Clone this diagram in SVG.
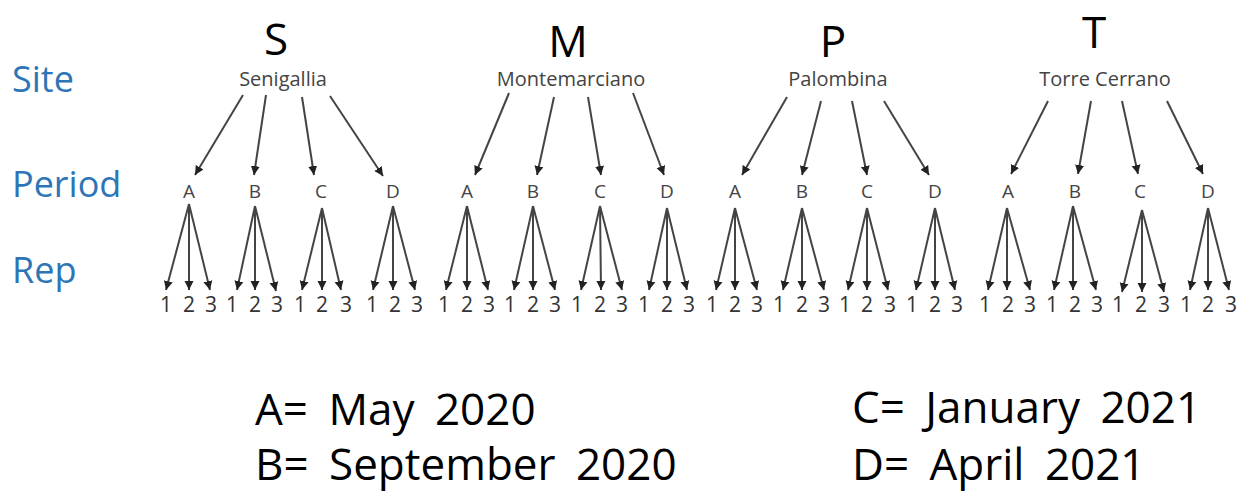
<svg xmlns="http://www.w3.org/2000/svg" width="1256" height="501" viewBox="0 0 1256 501">
<style>
text{font-family:"Open Sans","Liberation Sans",sans-serif}
.lab{font-size:36px;fill:#2E75B6}
.big{font-size:44px;fill:#000;text-anchor:middle}
.site{font-size:20px;fill:#444;text-anchor:middle}
.per{font-size:19px;fill:#444;text-anchor:middle}
.rep{font-size:21px;fill:#333;text-anchor:middle}
.leg{font-size:44px;fill:#000;word-spacing:9px}
.c line{stroke:#444;stroke-width:2;marker-end:url(#ah)}
</style>
<defs>
<marker id="ah" markerUnits="userSpaceOnUse" markerWidth="10" markerHeight="10" refX="9" refY="4.5" orient="auto" viewBox="0 0 10 9">
<path d="M0,0 L9,4.5 L0,9 z" fill="#222"/>
</marker>
</defs>
<rect width="1256" height="501" fill="#fff"/>
<g id="labels">
<text class="lab" x="12" y="92">Site</text>
<text class="lab" x="12" y="197">Period</text>
<text class="lab" x="12" y="283">Rep</text>
</g>
<g id="site-S"><text class="big" x="276" y="55">S</text><text class="site" x="283" y="86">Senigallia</text></g>
<g id="site-M"><text class="big" x="568" y="57">M</text><text class="site" x="571" y="86">Montemarciano</text></g>
<g id="site-P"><text class="big" x="833" y="57">P</text><text class="site" x="838" y="86">Palombina</text></g>
<g id="site-T"><text class="big" x="1094" y="48">T</text><text class="site" x="1105" y="86">Torre Cerrano</text></g>
<g id="periods">
<g id="S-A"><text class="per" x="189" y="198">A</text></g>
<g id="S-B"><text class="per" x="255" y="198">B</text></g>
<g id="S-C"><text class="per" x="321" y="198">C</text></g>
<g id="S-D"><text class="per" x="393" y="198">D</text></g>
<g id="M-A"><text class="per" x="467" y="198">A</text></g>
<g id="M-B"><text class="per" x="533" y="198">B</text></g>
<g id="M-C"><text class="per" x="600" y="198">C</text></g>
<g id="M-D"><text class="per" x="667" y="198">D</text></g>
<g id="P-A"><text class="per" x="735" y="198">A</text></g>
<g id="P-B"><text class="per" x="802" y="198">B</text></g>
<g id="P-C"><text class="per" x="867" y="198">C</text></g>
<g id="P-D"><text class="per" x="935" y="198">D</text></g>
<g id="T-A"><text class="per" x="1008" y="198">A</text></g>
<g id="T-B"><text class="per" x="1075" y="198">B</text></g>
<g id="T-C"><text class="per" x="1140" y="198">C</text></g>
<g id="T-D"><text class="per" x="1208" y="198">D</text></g>
</g>
<g id="reps">
<g id="S-A-r"><text class="rep" x="166" y="312">1</text><text class="rep" x="189" y="312">2</text><text class="rep" x="211" y="312">3</text></g>
<g id="S-B-r"><text class="rep" x="232" y="312">1</text><text class="rep" x="255" y="312">2</text><text class="rep" x="277" y="312">3</text></g>
<g id="S-C-r"><text class="rep" x="300" y="312">1</text><text class="rep" x="322" y="312">2</text><text class="rep" x="346" y="312">3</text></g>
<g id="S-D-r"><text class="rep" x="372" y="312">1</text><text class="rep" x="395" y="312">2</text><text class="rep" x="417" y="312">3</text></g>
<g id="M-A-r"><text class="rep" x="444" y="312">1</text><text class="rep" x="467" y="312">2</text><text class="rep" x="489" y="312">3</text></g>
<g id="M-B-r"><text class="rep" x="510" y="312">1</text><text class="rep" x="533" y="312">2</text><text class="rep" x="555" y="312">3</text></g>
<g id="M-C-r"><text class="rep" x="577" y="312">1</text><text class="rep" x="600" y="312">2</text><text class="rep" x="622" y="312">3</text></g>
<g id="M-D-r"><text class="rep" x="644" y="312">1</text><text class="rep" x="667" y="312">2</text><text class="rep" x="689" y="312">3</text></g>
<g id="P-A-r"><text class="rep" x="712" y="312">1</text><text class="rep" x="735" y="312">2</text><text class="rep" x="757" y="312">3</text></g>
<g id="P-B-r"><text class="rep" x="779" y="312">1</text><text class="rep" x="802" y="312">2</text><text class="rep" x="824" y="312">3</text></g>
<g id="P-C-r"><text class="rep" x="845" y="312">1</text><text class="rep" x="867" y="312">2</text><text class="rep" x="890" y="312">3</text></g>
<g id="P-D-r"><text class="rep" x="912" y="312">1</text><text class="rep" x="935" y="312">2</text><text class="rep" x="957" y="312">3</text></g>
<g id="T-A-r"><text class="rep" x="985" y="312">1</text><text class="rep" x="1008" y="312">2</text><text class="rep" x="1030" y="312">3</text></g>
<g id="T-B-r"><text class="rep" x="1052" y="312">1</text><text class="rep" x="1075" y="312">2</text><text class="rep" x="1097" y="312">3</text></g>
<g id="T-C-r"><text class="rep" x="1118" y="312">1</text><text class="rep" x="1141" y="312">2</text><text class="rep" x="1164" y="312">3</text></g>
<g id="T-D-r"><text class="rep" x="1186" y="312">1</text><text class="rep" x="1208" y="312">2</text><text class="rep" x="1231" y="312">3</text></g>
</g>
<g id="connectors" class="c">
<line x1="243" y1="95" x2="195" y2="175"/><line x1="266" y1="95" x2="254" y2="175"/><line x1="302" y1="97" x2="314" y2="175"/><line x1="330" y1="96" x2="383" y2="176"/>
<line x1="509" y1="93" x2="475" y2="175"/><line x1="554" y1="97" x2="537" y2="175"/><line x1="588" y1="97" x2="601" y2="175"/><line x1="633" y1="93" x2="664" y2="175"/>
<line x1="787" y1="97" x2="742" y2="175"/><line x1="821" y1="101" x2="802" y2="175"/><line x1="852" y1="101" x2="867" y2="175"/><line x1="884" y1="101" x2="929" y2="175"/>
<line x1="1048" y1="101" x2="1011" y2="174"/><line x1="1091" y1="101" x2="1078" y2="174"/><line x1="1122" y1="101" x2="1138" y2="174"/><line x1="1167" y1="101" x2="1203" y2="174"/>
<line x1="189" y1="204" x2="166" y2="290"/><line x1="189" y1="204" x2="189" y2="290"/><line x1="189" y1="204" x2="210" y2="290"/>
<line x1="255" y1="206" x2="237" y2="290"/><line x1="255" y1="206" x2="255" y2="290"/><line x1="255" y1="206" x2="276" y2="291"/>
<line x1="322" y1="208" x2="302" y2="290"/><line x1="322" y1="208" x2="322" y2="290"/><line x1="322" y1="208" x2="341" y2="290"/>
<line x1="393" y1="206" x2="373" y2="290"/><line x1="393" y1="206" x2="393" y2="290"/><line x1="393" y1="206" x2="415" y2="290"/>
<line x1="467" y1="206" x2="446" y2="290"/><line x1="467" y1="206" x2="467" y2="290"/><line x1="467" y1="206" x2="488" y2="290"/>
<line x1="533" y1="206" x2="514" y2="290"/><line x1="533" y1="206" x2="533" y2="290"/><line x1="533" y1="206" x2="555" y2="290"/>
<line x1="600" y1="206" x2="581" y2="290"/><line x1="600" y1="206" x2="601" y2="290"/><line x1="600" y1="206" x2="622" y2="290"/>
<line x1="667" y1="208" x2="649" y2="290"/><line x1="667" y1="208" x2="667" y2="290"/><line x1="667" y1="208" x2="687" y2="290"/>
<line x1="735" y1="208" x2="716" y2="290"/><line x1="735" y1="208" x2="735" y2="290"/><line x1="735" y1="208" x2="757" y2="290"/>
<line x1="802" y1="208" x2="783" y2="290"/><line x1="802" y1="208" x2="802" y2="290"/><line x1="802" y1="208" x2="824" y2="290"/>
<line x1="867" y1="208" x2="848" y2="290"/><line x1="867" y1="208" x2="867" y2="290"/><line x1="867" y1="208" x2="888" y2="290"/>
<line x1="935" y1="208" x2="916" y2="290"/><line x1="935" y1="208" x2="935" y2="290"/><line x1="935" y1="208" x2="955" y2="290"/>
<line x1="1007" y1="208" x2="988" y2="290"/><line x1="1007" y1="208" x2="1007" y2="290"/><line x1="1007" y1="208" x2="1030" y2="290"/>
<line x1="1073" y1="206" x2="1054" y2="290"/><line x1="1073" y1="206" x2="1073" y2="290"/><line x1="1073" y1="206" x2="1096" y2="290"/>
<line x1="1142" y1="210" x2="1122" y2="292"/><line x1="1142" y1="210" x2="1142" y2="292"/><line x1="1142" y1="210" x2="1164" y2="292"/>
<line x1="1208" y1="208" x2="1190" y2="290"/><line x1="1208" y1="208" x2="1208" y2="290"/><line x1="1208" y1="208" x2="1229" y2="290"/>
</g>
<g id="legend">
<text class="leg" x="255" y="425">A= May 2020</text>
<text class="leg" x="255" y="480">B= September 2020</text>
<text class="leg" x="852" y="423">C= January 2021</text>
<text class="leg" x="852" y="480">D= April 2021</text>
</g>
</svg>
